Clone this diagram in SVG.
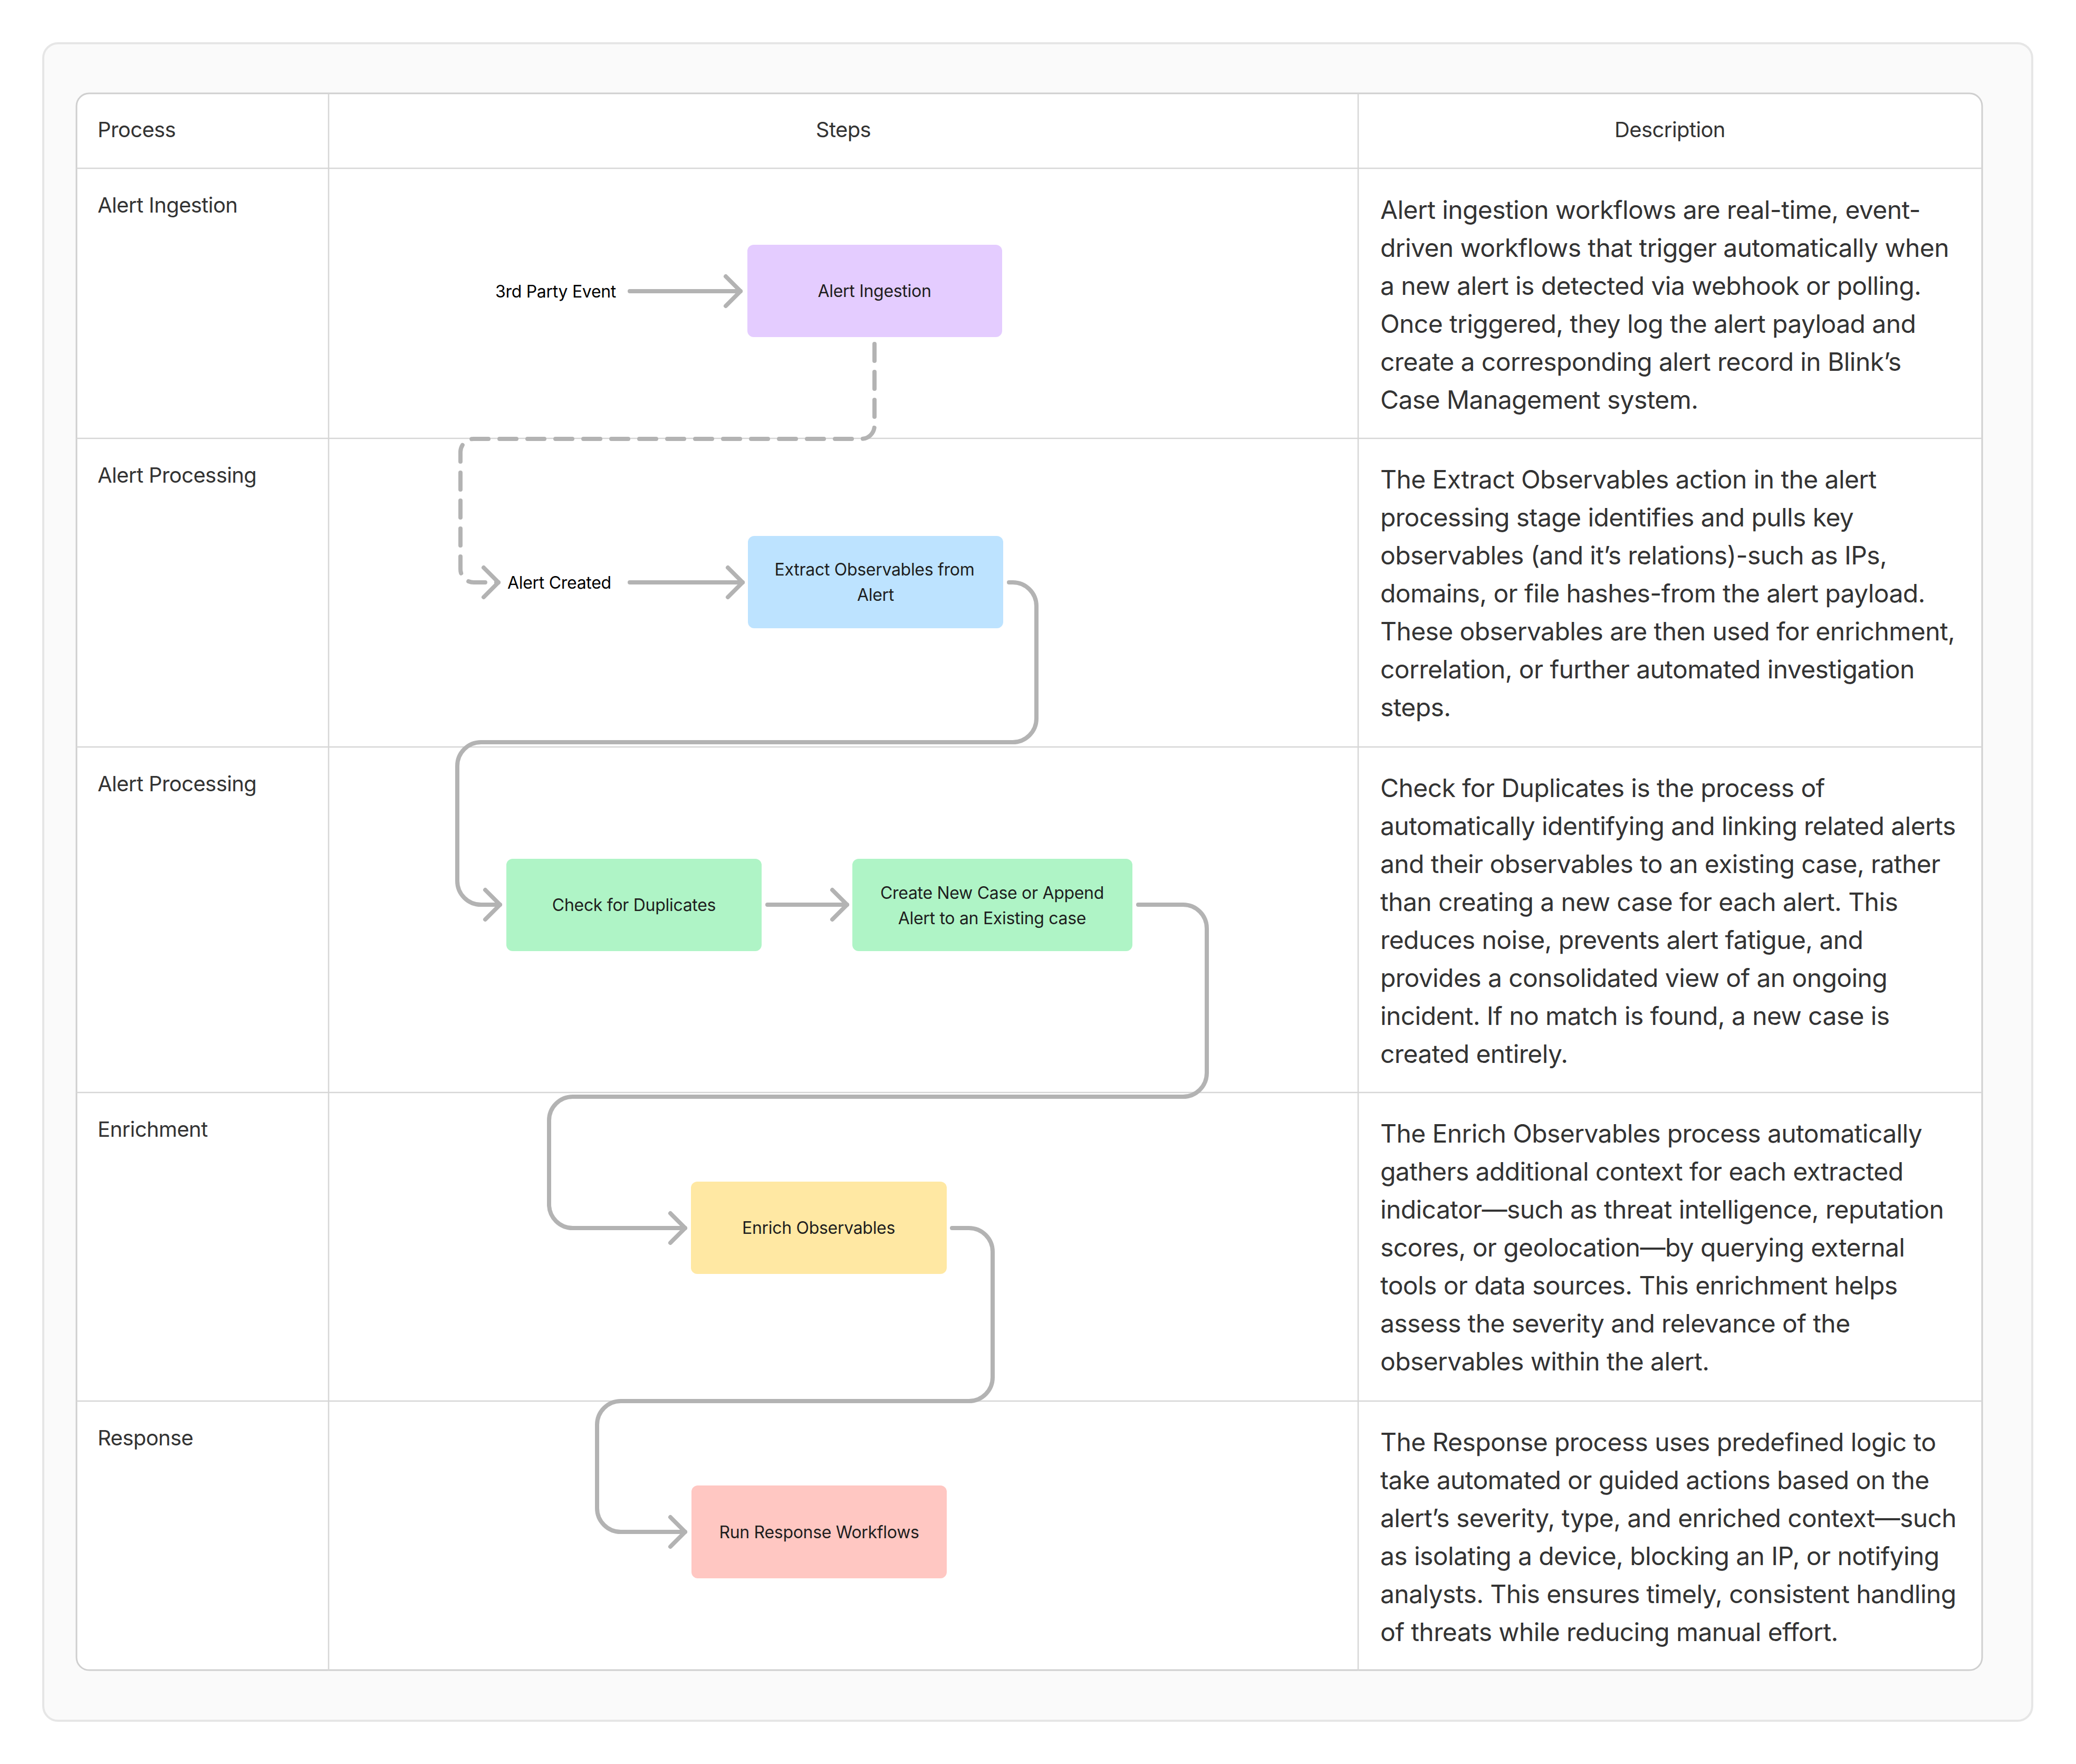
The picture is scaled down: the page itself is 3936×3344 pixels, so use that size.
<svg xmlns="http://www.w3.org/2000/svg" width="3936" height="3344" viewBox="0 0 3936 3344">
<defs>
<style>
.card{fill:#fafafa;stroke:#e6e6e6;stroke-width:4}
.tbl{fill:#ffffff;stroke:#cfcfcf;stroke-width:3}
.grid{stroke:#d6d6d6;stroke-width:2.5;fill:none}
.hdr{font-family:Inter,"Noto Sans",sans-serif;font-size:40px;fill:#333333;letter-spacing:-0.6px}
.desc{font-family:Inter,"Noto Sans",sans-serif;font-size:48px;fill:#333333;letter-spacing:-0.6px}
.node{font-family:Inter,"Noto Sans",sans-serif;font-size:32px;fill:#1e1e1e;text-anchor:middle;letter-spacing:-0.3px}
.lbl{font-family:Inter,"Noto Sans",sans-serif;font-size:32px;fill:#000000;letter-spacing:-0.3px}
.conn{fill:none;stroke:#b3b3b3;stroke-width:8;stroke-linecap:round;stroke-linejoin:round}
.dash{stroke-dasharray:32 21}
</style>
<marker id="arrow" markerUnits="userSpaceOnUse" markerWidth="40" markerHeight="64" refX="32" refY="32" orient="auto" overflow="visible">
<path d="M4,4 L32,32 L4,60" fill="none" stroke="#b3b3b3" stroke-width="8" stroke-linecap="round" stroke-linejoin="round"/>
</marker>
</defs>
<rect width="3936" height="3344" fill="#ffffff"/>
<g id="frame">
<rect class="card" x="82" y="82" width="3771" height="3180" rx="28"/>
<rect class="tbl" x="145" y="177" width="3613" height="2989" rx="24"/>
<path class="grid" d="M623,177 V3166 M2575,177 V3166 M145,319 H3758 M145,831 H3758 M145,1416 H3758 M145,2071 H3758 M145,2656 H3758"/>
</g>
<g id="headers">
<text class="hdr" x="185" y="260">Process</text>
<text class="hdr" x="1599" y="260" text-anchor="middle">Steps</text>
<text class="hdr" x="3166" y="260" text-anchor="middle">Description</text>
</g>
<g id="process-labels">
<text class="hdr" x="185" y="403">Alert Ingestion</text>
<text class="hdr" x="185" y="915">Alert Processing</text>
<text class="hdr" x="185" y="1500">Alert Processing</text>
<text class="hdr" x="185" y="2155">Enrichment</text>
<text class="hdr" x="185" y="2740">Response</text>
</g>
<g id="connectors">
<path class="conn" d="M1194,552 L1404,552" marker-end="url(#arrow)"/>
<path class="conn dash" d="M1658,652 L1658,807 A25,25 0 0 1 1633,832 L898,832 A25,25 0 0 0 873,857 L873,1079 A25,25 0 0 0 898,1104 L945,1104" marker-end="url(#arrow)"/>
<path class="conn" d="M1194,1104 L1408,1104" marker-end="url(#arrow)"/>
<path class="conn" d="M1913,1104 L1920,1104 A45,45 0 0 1 1965,1149 L1965,1362 A45,45 0 0 1 1920,1407 L912,1407 A45,45 0 0 0 867,1452 L867,1670 A45,45 0 0 0 912,1715 L948,1715" marker-end="url(#arrow)"/>
<path class="conn" d="M1455,1715 L1606,1715" marker-end="url(#arrow)"/>
<path class="conn" d="M2158,1715 L2243,1715 A45,45 0 0 1 2288,1760 L2288,2034 A45,45 0 0 1 2243,2079 L1086,2079 A45,45 0 0 0 1041,2124 L1041,2283 A45,45 0 0 0 1086,2328 L1299,2328" marker-end="url(#arrow)"/>
<path class="conn" d="M1805,2328 L1837,2328 A45,45 0 0 1 1882,2373 L1882,2611 A45,45 0 0 1 1837,2656 L1177,2656 A45,45 0 0 0 1132,2701 L1132,2859 A45,45 0 0 0 1177,2904 L1299,2904" marker-end="url(#arrow)"/>
</g>
<g id="label-3rd-party-event">
<text class="lbl" x="939" y="564">3rd Party Event</text>
</g>
<g id="label-alert-created">
<text class="lbl" x="962" y="1116">Alert Created</text>
</g>
<g id="node-alert-ingestion">
<rect x="1417" y="464" width="483" height="175" rx="12" fill="#e4ccff"/>
<text class="node" x="1658" y="563">Alert Ingestion</text>
</g>
<g id="node-extract-observables">
<rect x="1418" y="1016" width="484" height="175" rx="12" fill="#bde3ff"/>
<text class="node" x="1658" y="1091">Extract Observables from</text>
<text class="node" x="1660" y="1139">Alert</text>
</g>
<g id="node-check-duplicates">
<rect x="960" y="1628" width="484" height="175" rx="12" fill="#aff4c6"/>
<text class="node" x="1202" y="1727">Check for Duplicates</text>
</g>
<g id="node-create-case">
<rect x="1616" y="1628" width="531" height="175" rx="12" fill="#aff4c6"/>
<text class="node" x="1881" y="1704">Create New Case or Append</text>
<text class="node" x="1881" y="1752">Alert to an Existing case</text>
</g>
<g id="node-enrich">
<rect x="1310" y="2240" width="485" height="175" rx="12" fill="#ffe8a3"/>
<text class="node" x="1552" y="2339">Enrich Observables</text>
</g>
<g id="node-response">
<rect x="1311" y="2816" width="484" height="176" rx="12" fill="#ffc7c2"/>
<text class="node" x="1553" y="2916">Run Response Workflows</text>
</g>
<g id="descriptions">
<text class="desc">
<tspan x="2617" y="415">Alert ingestion workflows are real-time, event-</tspan>
<tspan x="2617" y="487">driven workflows that trigger automatically when</tspan>
<tspan x="2617" y="559">a new alert is detected via webhook or polling.</tspan>
<tspan x="2617" y="631">Once triggered, they log the alert payload and</tspan>
<tspan x="2617" y="703">create a corresponding alert record in Blink’s</tspan>
<tspan x="2617" y="775">Case Management system.</tspan>
</text>
<text class="desc">
<tspan x="2617" y="926">The Extract Observables action in the alert</tspan>
<tspan x="2617" y="998">processing stage identifies and pulls key</tspan>
<tspan x="2617" y="1070">observables (and it’s relations)-such as IPs,</tspan>
<tspan x="2617" y="1142">domains, or file hashes-from the alert payload.</tspan>
<tspan x="2617" y="1214">These observables are then used for enrichment,</tspan>
<tspan x="2617" y="1286">correlation, or further automated investigation</tspan>
<tspan x="2617" y="1358">steps.</tspan>
</text>
<text class="desc">
<tspan x="2617" y="1511">Check for Duplicates is the process of</tspan>
<tspan x="2617" y="1583">automatically identifying and linking related alerts</tspan>
<tspan x="2617" y="1655">and their observables to an existing case, rather</tspan>
<tspan x="2617" y="1727">than creating a new case for each alert. This</tspan>
<tspan x="2617" y="1799">reduces noise, prevents alert fatigue, and</tspan>
<tspan x="2617" y="1871">provides a consolidated view of an ongoing</tspan>
<tspan x="2617" y="1943">incident. If no match is found, a new case is</tspan>
<tspan x="2617" y="2015">created entirely.</tspan>
</text>
<text class="desc">
<tspan x="2617" y="2166">The Enrich Observables process automatically</tspan>
<tspan x="2617" y="2238">gathers additional context for each extracted</tspan>
<tspan x="2617" y="2310">indicator—such as threat intelligence, reputation</tspan>
<tspan x="2617" y="2382">scores, or geolocation—by querying external</tspan>
<tspan x="2617" y="2454">tools or data sources. This enrichment helps</tspan>
<tspan x="2617" y="2526">assess the severity and relevance of the</tspan>
<tspan x="2617" y="2598">observables within the alert.</tspan>
</text>
<text class="desc">
<tspan x="2617" y="2751">The Response process uses predefined logic to</tspan>
<tspan x="2617" y="2823">take automated or guided actions based on the</tspan>
<tspan x="2617" y="2895">alert’s severity, type, and enriched context—such</tspan>
<tspan x="2617" y="2967">as isolating a device, blocking an IP, or notifying</tspan>
<tspan x="2617" y="3039">analysts. This ensures timely, consistent handling</tspan>
<tspan x="2617" y="3111">of threats while reducing manual effort.</tspan>
</text>
</g>
</svg>
